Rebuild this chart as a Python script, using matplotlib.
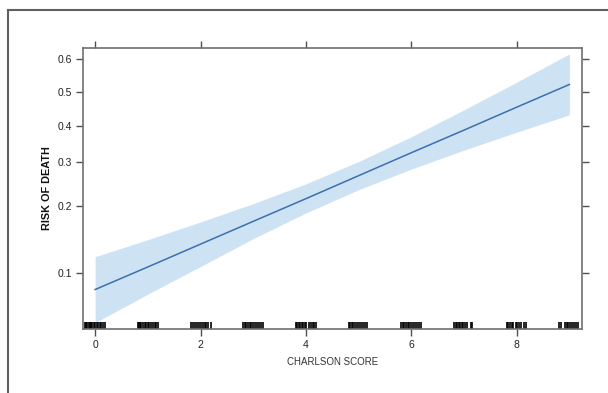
import matplotlib
matplotlib.use("Agg")
import matplotlib.pyplot as plt
from matplotlib.lines import Line2D
from matplotlib.ticker import NullLocator, FixedLocator, FixedFormatter

# Fitted risk curve
score = [0, 1, 2, 3, 4, 5, 6, 7, 8, 9]
risk = [0.083, 0.1065, 0.136, 0.172, 0.215, 0.266, 0.324, 0.387, 0.455, 0.524]
risk_upper = [0.119, 0.1425, 0.171, 0.205, 0.247, 0.301, 0.368, 0.447, 0.531, 0.615]
risk_lower = [0.057, 0.0788, 0.107, 0.144, 0.187, 0.234, 0.282, 0.331, 0.381, 0.432]

# Rug of observed (jittered) Charlson scores
rug_x = [
    -0.19, -0.17, -0.15, -0.12, -0.10, -0.08, -0.05, -0.03, 0.00, 0.03, 0.06, 0.09, 0.12, 0.15, 0.19,
    0.81, 0.83, 0.86, 0.88, 0.91, 0.94, 0.97, 1.00, 1.03, 1.06, 1.10, 1.13, 1.16, 1.20,
    1.82, 1.86, 1.89, 1.93, 1.97, 2.00, 2.04, 2.08, 2.11, 2.15, 2.19,
    2.81, 2.84, 2.87, 2.90, 2.93, 2.96, 3.00, 3.04, 3.07, 3.11, 3.15, 3.19,
    3.81, 3.83, 3.86, 3.89, 3.92, 3.95, 3.98, 4.01, 4.05, 4.09, 4.13, 4.16, 4.19,
    4.81, 4.84, 4.87, 4.90, 4.94, 4.97, 5.01, 5.05, 5.08, 5.12, 5.16,
    5.81, 5.84, 5.87, 5.90, 5.93, 5.96, 6.00, 6.03, 6.07, 6.11, 6.14, 6.18,
    6.81, 6.84, 6.87, 6.90, 6.93, 6.96, 6.99, 7.02, 7.05, 7.13, 7.16,
    7.81, 7.84, 7.88, 7.91, 7.94, 7.98, 8.01, 8.05, 8.09, 8.13, 8.17,
    8.81, 8.84, 8.92, 8.95, 8.98, 9.02, 9.05, 9.09, 9.13, 9.16,
]

x_ticks = [0, 2, 4, 6, 8]
y_ticks = [0.1, 0.2, 0.3, 0.4, 0.5, 0.6]
y_tick_labels = ["0.1", "0.2", "0.3", "0.4", "0.5", "0.6"]

plt.rcParams['font.family'] = ['Liberation Sans', 'DejaVu Sans']

fig = plt.figure(figsize=(6.08, 3.93), dpi=100)
fig.patch.set_facecolor('white')
ax = fig.add_axes([83/608, 64/393, 499/608, 281/393])

ax.fill_between(score, risk_lower, risk_upper, color='#cde3f4', linewidth=0)
ax.plot(score, risk, color='#3b6fae', linewidth=1.1)

ax.set_yscale('logit')
ax.set_ylim(0.053, 0.632)
ax.set_xlim(-0.23, 9.24)

# rug
trans = ax.get_xaxis_transform()
for xv in rug_x:
    ax.plot([xv, xv], [0, 0.026], color='black', linewidth=1.2, transform=trans,
            solid_capstyle='butt', clip_on=False)

ax.yaxis.set_major_locator(FixedLocator(y_ticks))
ax.yaxis.set_major_formatter(FixedFormatter(y_tick_labels))
ax.yaxis.set_minor_locator(NullLocator())
ax.set_xticks(x_ticks)
ax.set_xticklabels([str(t) for t in x_ticks])

for s in ax.spines.values():
    s.set_color('#707070')
    s.set_linewidth(1.2)

ax.tick_params(axis='both', which='major', direction='out', length=5, width=1,
               color='#505050', labelsize=7.5, labelcolor='#222222',
               top=True, right=True, labeltop=False, labelright=False, pad=3)

ax.set_xlabel('CHARLSON SCORE', fontsize=7, color='#333333', labelpad=5)
ax.set_ylabel('RISK OF DEATH', fontsize=7.8, fontweight='bold', color='#111111', labelpad=4)

# outer frame (top and left only)
fig.add_artist(Line2D([8/608, 1.0], [1 - 10/393, 1 - 10/393], transform=fig.transFigure,
                      color='#606060', linewidth=1.5))
fig.add_artist(Line2D([8/608, 8/608], [0.0, 1 - 10/393], transform=fig.transFigure,
                      color='#606060', linewidth=1.5))

fig.savefig('out.png', dpi=100, facecolor='white')
